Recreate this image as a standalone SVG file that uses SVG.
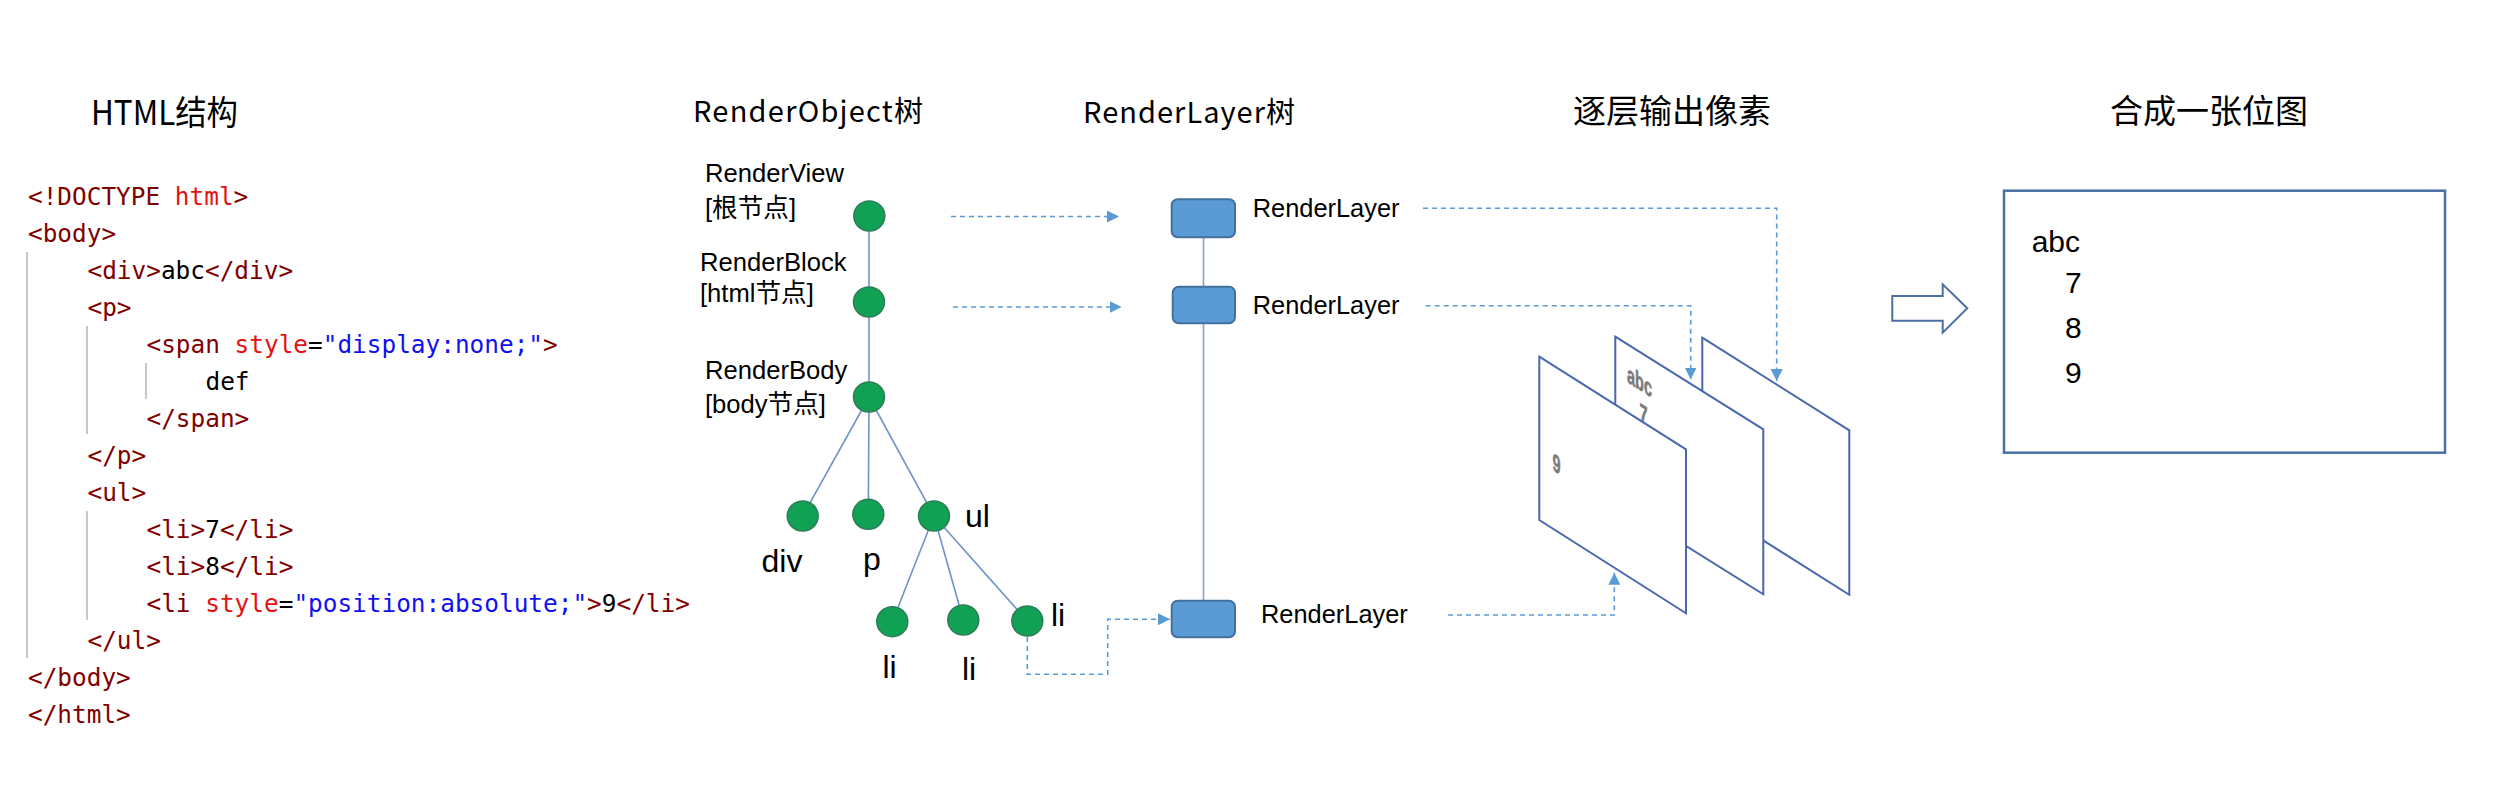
<svg xmlns="http://www.w3.org/2000/svg" width="2499" height="787" viewBox="0 0 2499 787">
<style>
.title{font-family:"Noto Sans CJK SC","Liberation Sans",sans-serif;font-size:29px;fill:#000}
.title2{font-family:"Noto Sans CJK SC",sans-serif;font-size:33px;fill:#000}
.code{font-family:"DejaVu Sans Mono","Liberation Mono",monospace;font-size:24.4px;fill:#800000}
.red{fill:#e31212}.blue{fill:#1010f0}.blk{fill:#000}
.guide{stroke:#c8c8c8;stroke-width:2;fill:none}
.lbl{font-family:"Liberation Sans","Noto Sans CJK SC",sans-serif;font-size:25.6px;fill:#000}
.big{font-family:"Liberation Sans",sans-serif;font-size:32px;fill:#000}
.node{fill:#10a155;stroke:#2f7d58;stroke-width:1.5}
.edge{stroke:#6f93c8;stroke-width:1.6;fill:none}
.layer{fill:#5b9bd5;stroke:#41719c;stroke-width:2}
.dash{stroke:#5b9bd5;stroke-width:1.6;stroke-dasharray:5 4;fill:none}
.pane{fill:#fff;stroke:#4a68ad;stroke-width:2}
.ptxt{font-family:"Liberation Sans",sans-serif;font-size:25px;font-weight:bold;fill:#7a7a7a;stroke:#7a7a7a;stroke-width:0.6}
.res{font-family:"Liberation Sans",sans-serif;font-size:30px;fill:#000}
</style>
<defs>
<marker id="ah" markerUnits="userSpaceOnUse" markerWidth="13" markerHeight="13" refX="12" refY="6" orient="auto">
<path d="M0,0 L12,6 L0,12 z" fill="#5b9bd5"/>
</marker>
</defs>
<rect width="2499" height="787" fill="#fff"/>

<g id="titles">
<text class="title2" x="91" y="125" textLength="147" lengthAdjust="spacingAndGlyphs" style="font-size:34px">HTML结构</text>
<text class="title" x="693" y="122" textLength="230" lengthAdjust="spacing">RenderObject树</text>
<text class="title" x="1083" y="123" textLength="212" lengthAdjust="spacing">RenderLayer树</text>
<text class="title2" x="1573" y="123">逐层输出像素</text>
<text class="title2" x="2110" y="123">合成一张位图</text>
</g>

<g id="html-code">
<line class="guide" x1="27" y1="252" x2="27" y2="658"/>
<line class="guide" x1="87" y1="326" x2="87" y2="434"/>
<line class="guide" x1="146" y1="363" x2="146" y2="399"/>
<line class="guide" x1="87" y1="511" x2="87" y2="620"/>
<text class="code" x="28" y="205">&lt;!DOCTYPE <tspan class="red">html</tspan>&gt;</text>
<text class="code" x="28" y="242">&lt;body&gt;</text>
<text class="code" x="87.5" y="279">&lt;div&gt;<tspan class="blk">abc</tspan>&lt;/div&gt;</text>
<text class="code" x="87.5" y="316">&lt;p&gt;</text>
<text class="code" x="146.5" y="353">&lt;span <tspan class="red">style</tspan><tspan class="blk">=</tspan><tspan class="blue">"display:none;"</tspan>&gt;</text>
<text class="code blk" x="205.5" y="390">def</text>
<text class="code" x="146.5" y="427">&lt;/span&gt;</text>
<text class="code" x="87.5" y="464">&lt;/p&gt;</text>
<text class="code" x="87.5" y="501">&lt;ul&gt;</text>
<text class="code" x="146.5" y="538">&lt;li&gt;<tspan class="blk">7</tspan>&lt;/li&gt;</text>
<text class="code" x="146.5" y="575">&lt;li&gt;<tspan class="blk">8</tspan>&lt;/li&gt;</text>
<text class="code" x="146.5" y="612">&lt;li <tspan class="red">style</tspan><tspan class="blk">=</tspan><tspan class="blue">"position:absolute;"</tspan>&gt;<tspan class="blk">9</tspan>&lt;/li&gt;</text>
<text class="code" x="87.5" y="649">&lt;/ul&gt;</text>
<text class="code" x="28" y="686">&lt;/body&gt;</text>
<text class="code" x="28" y="723">&lt;/html&gt;</text>
</g>

<g id="connectors">
<line class="edge" x1="869" y1="216" x2="869" y2="302"/>
<line class="edge" x1="869" y1="302" x2="869" y2="397"/>
<line class="edge" x1="869" y1="397" x2="802.7" y2="516"/>
<line class="edge" x1="869" y1="397" x2="868.3" y2="514"/>
<line class="edge" x1="869" y1="397" x2="934" y2="516"/>
<line class="edge" x1="934" y1="516" x2="892.3" y2="621.7"/>
<line class="edge" x1="934" y1="516" x2="963.3" y2="620"/>
<line class="edge" x1="934" y1="516" x2="1027.3" y2="621"/>
<line class="edge" x1="1203.5" y1="237" x2="1203.5" y2="601" style="stroke:#8fa3bf"/>
<path class="dash" d="M951,216.5 H1119" marker-end="url(#ah)"/>
<path class="dash" d="M953,307 H1121.7" marker-end="url(#ah)"/>
<path class="dash" d="M1027.3,637 V674.3 H1107.7 V619.3 H1170" marker-end="url(#ah)"/>
<path class="dash" d="M1423,208.3 H1776.7 V381" marker-end="url(#ah)"/>
<path class="dash" d="M1425.7,305.7 H1690.7 V379.5" marker-end="url(#ah)"/>
<path class="dash" d="M1448,615 H1614.3 V572.7" marker-end="url(#ah)"/>
</g>

<g id="node-renderview">
<ellipse class="node" cx="869.3" cy="216" rx="15.5" ry="15"/>
<text class="lbl" x="705" y="181.7">RenderView</text>
<text class="lbl" x="705" y="217">[根节点]</text>
</g>
<g id="node-renderblock">
<ellipse class="node" cx="869" cy="302" rx="15.5" ry="15"/>
<text class="lbl" x="700" y="271">RenderBlock</text>
<text class="lbl" x="700" y="302">[html节点]</text>
</g>
<g id="node-renderbody">
<ellipse class="node" cx="869" cy="397" rx="15.5" ry="15"/>
<text class="lbl" x="705" y="379">RenderBody</text>
<text class="lbl" x="705" y="413">[body节点]</text>
</g>
<g id="node-div">
<ellipse class="node" cx="802.7" cy="516" rx="15.5" ry="15"/>
<text class="big" x="761.5" y="571.7">div</text>
</g>
<g id="node-p">
<ellipse class="node" cx="868.3" cy="514.3" rx="15.5" ry="15"/>
<text class="big" x="863" y="570">p</text>
</g>
<g id="node-ul">
<ellipse class="node" cx="934" cy="516" rx="15.5" ry="15"/>
<text class="big" x="965" y="527.3">ul</text>
</g>
<g id="node-li1">
<ellipse class="node" cx="892.3" cy="621.7" rx="15.5" ry="15"/>
<text class="big" x="882.5" y="678.3">li</text>
</g>
<g id="node-li2">
<ellipse class="node" cx="963.3" cy="620" rx="15.5" ry="15"/>
<text class="big" x="962" y="680">li</text>
</g>
<g id="node-li3">
<ellipse class="node" cx="1027.3" cy="621" rx="15.5" ry="15"/>
<text class="big" x="1051" y="626">li</text>
</g>

<g id="layer-1">
<rect class="layer" x="1171.7" y="199.3" width="63.3" height="38" rx="6"/>
<text class="lbl" x="1252.7" y="217.3" style="font-size:25.4px">RenderLayer</text>
</g>
<g id="layer-2">
<rect class="layer" x="1172.7" y="286.7" width="62.3" height="36.6" rx="6"/>
<text class="lbl" x="1252.7" y="314" style="font-size:25.4px">RenderLayer</text>
</g>
<g id="layer-3">
<rect class="layer" x="1171.7" y="600.7" width="63.3" height="36.6" rx="6"/>
<text class="lbl" x="1261" y="623.3" style="font-size:25.4px">RenderLayer</text>
</g>

<g id="pane-back">
<polygon class="pane" points="1702.3,337.7 1849.3,430.3 1849.3,594.8 1702.3,502"/>
</g>
<g id="pane-middle">
<polygon class="pane" points="1615.3,336.7 1763.3,429.3 1763.3,594.3 1615.3,501.7"/>
<text class="ptxt" transform="matrix(0.58,0.366,0,1,1627,382)">abc</text>
<text class="ptxt" transform="matrix(0.58,0.366,0,1,1639.5,420)">7</text>
</g>
<g id="pane-front">
<polygon class="pane" points="1539.3,356.7 1686,449.3 1686,613.3 1539.3,520"/>
<text class="ptxt" transform="matrix(0.58,0.366,0,1,1552.5,470)">9</text>
</g>

<g id="arrow-compose">
<polygon points="1892.3,296 1942.7,296 1942.7,284.3 1967.3,308.3 1942.7,332.7 1942.7,320.7 1892.3,320.7" fill="#fff" stroke="#4a6fa5" stroke-width="2"/>
</g>

<g id="bitmap">
<rect x="2004" y="190.7" width="441" height="262" fill="#fff" stroke="#4a6fa5" stroke-width="2.5"/>
<text class="res" x="2031.7" y="251.7">abc</text>
<text class="res" x="2065" y="293.3">7</text>
<text class="res" x="2065" y="338.3">8</text>
<text class="res" x="2065" y="383.3">9</text>
</g>
</svg>
